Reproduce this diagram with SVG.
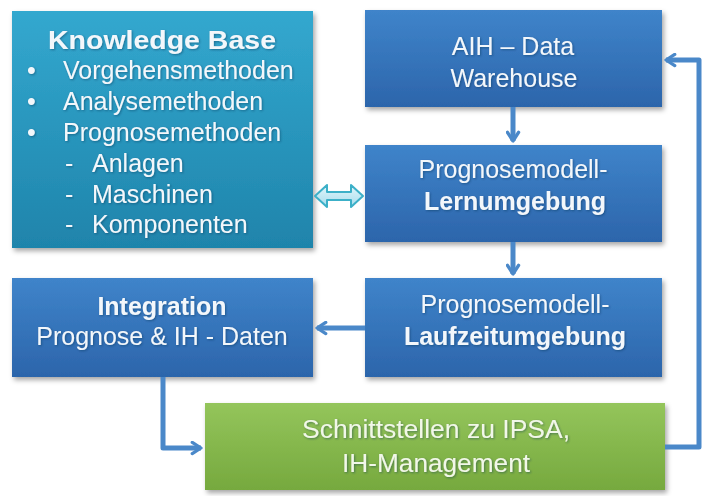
<svg xmlns="http://www.w3.org/2000/svg" width="704" height="496" viewBox="0 0 704 496">
<defs>
<linearGradient id="gKB" x1="0" y1="0" x2="0" y2="1"><stop offset="0" stop-color="#33a8cf"/><stop offset="1" stop-color="#1f84ab"/></linearGradient>
<linearGradient id="gBlue" x1="0" y1="0" x2="0" y2="1"><stop offset="0" stop-color="#3f84ca"/><stop offset="1" stop-color="#2c65ab"/></linearGradient>
<linearGradient id="gGreen" x1="0" y1="0" x2="0" y2="1"><stop offset="0" stop-color="#94c55b"/><stop offset="1" stop-color="#76a93e"/></linearGradient>
<linearGradient id="gDbl" x1="0" y1="0" x2="0" y2="1"><stop offset="0" stop-color="#e2f6fb"/><stop offset="1" stop-color="#a6dcec"/></linearGradient>
<filter id="sh" x="-10%" y="-10%" width="125%" height="130%"><feDropShadow dx="2" dy="3" stdDeviation="2.5" flood-color="#000" flood-opacity="0.35"/></filter>
<filter id="tsh" x="-5%" y="-20%" width="110%" height="150%"><feDropShadow dx="1" dy="1" stdDeviation="0.8" flood-color="#0a2a50" flood-opacity="0.45"/></filter>
<marker id="arr" viewBox="0 0 12 12" refX="10" refY="6" markerWidth="3" markerHeight="3" markerUnits="strokeWidth" orient="auto"><polyline points="3,1.5 10,6 3,10.5" fill="none" stroke="#4a88c9" stroke-width="2.6" stroke-linecap="round" stroke-linejoin="round"/></marker>
<style>
.t{font-family:"Liberation Sans",Arial,sans-serif;font-size:25px;fill:#f3f7fb;filter:url(#tsh)}
.b{font-weight:bold}
.m{text-anchor:middle}
.g{fill:#f1f7e9}
.c{fill:none;stroke:#4a88c9;stroke-width:5;stroke-linejoin:round}
</style>
</defs>
<g id="knowledge-base">
<rect x="12" y="11" width="301" height="237" fill="url(#gKB)" filter="url(#sh)"/>
<text class="t b m" x="162" y="49" textLength="228" lengthAdjust="spacingAndGlyphs" style="font-size:26px">Knowledge Base</text>
<text class="t" x="27" y="79">•</text><text class="t" x="63" y="79">Vorgehensmethoden</text>
<text class="t" x="27" y="110">•</text><text class="t" x="63" y="110">Analysemethoden</text>
<text class="t" x="27" y="141">•</text><text class="t" x="63" y="141">Prognosemethoden</text>
<text class="t" x="65" y="172">-</text><text class="t" x="92" y="172">Anlagen</text>
<text class="t" x="65" y="203">-</text><text class="t" x="92" y="203">Maschinen</text>
<text class="t" x="65" y="233">-</text><text class="t" x="92" y="233">Komponenten</text>
</g>
<g id="aih-data-warehouse">
<rect x="365" y="10" width="297" height="97" fill="url(#gBlue)" filter="url(#sh)"/>
<text class="t m" x="513" y="55">AIH – Data</text>
<text class="t m" x="514" y="87">Warehouse</text>
</g>
<g id="lernumgebung">
<rect x="365" y="145" width="297" height="97" fill="url(#gBlue)" filter="url(#sh)"/>
<text class="t m" x="513" y="178">Prognosemodell-</text>
<text class="t b m" x="515" y="210">Lernumgebung</text>
</g>
<g id="laufzeitumgebung">
<rect x="365" y="278" width="297" height="99" fill="url(#gBlue)" filter="url(#sh)"/>
<text class="t m" x="515" y="313">Prognosemodell-</text>
<text class="t b m" x="515" y="345">Laufzeitumgebung</text>
</g>
<g id="integration">
<rect x="12" y="278" width="301" height="99" fill="url(#gBlue)" filter="url(#sh)"/>
<text class="t b m" x="162" y="315">Integration</text>
<text class="t m" x="162" y="345">Prognose &amp; IH - Daten</text>
</g>
<g id="schnittstellen">
<rect x="205" y="403" width="460" height="87" fill="url(#gGreen)" filter="url(#sh)"/>
<text class="t g m" x="436" y="438" textLength="268" lengthAdjust="spacingAndGlyphs">Schnittstellen zu IPSA,</text>
<text class="t g m" x="436" y="472" textLength="188" lengthAdjust="spacingAndGlyphs">IH-Management</text>
</g>
<g id="connectors">
<path class="c" d="M513,107 V141" marker-end="url(#arr)"/>
<path class="c" d="M513,242 V274" marker-end="url(#arr)"/>
<path class="c" d="M365,328 H317" marker-end="url(#arr)"/>
<path class="c" d="M163,377 V448 H201" marker-end="url(#arr)"/>
<path class="c" d="M665,447 H699 V60 H666" marker-end="url(#arr)"/>
<polygon points="315,196 327,185 327,192 351,192 351,185 363,196 351,207 351,200 327,200 327,207" fill="url(#gDbl)" stroke="#3cb0c8" stroke-width="2" stroke-linejoin="round"/>
</g>
</svg>
